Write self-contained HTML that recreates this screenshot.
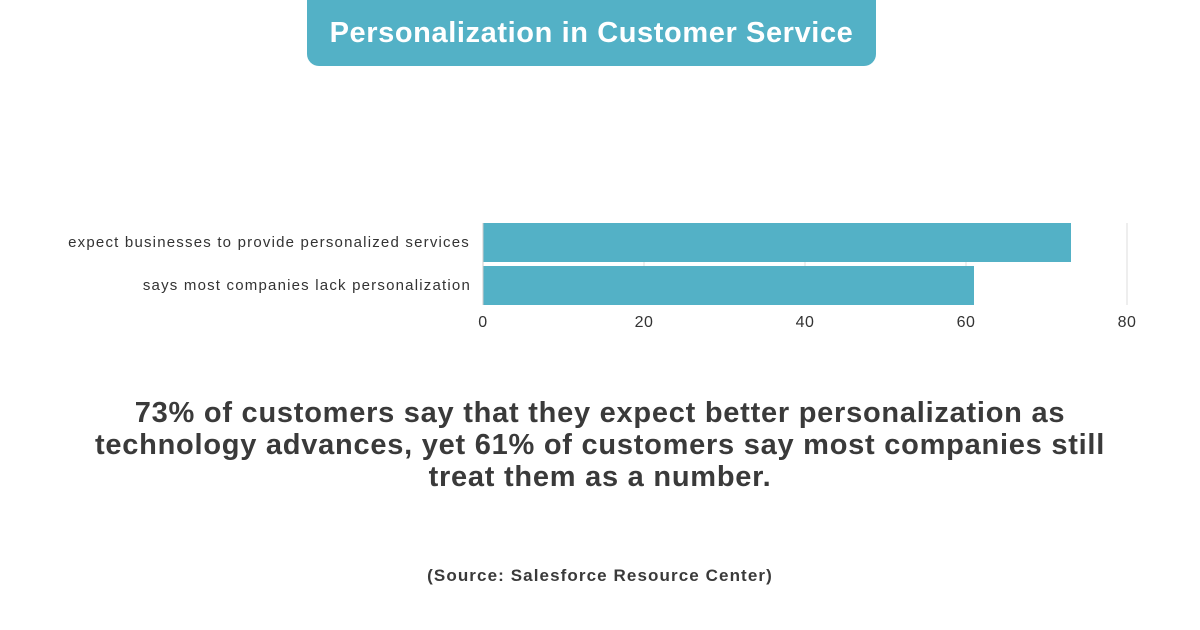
<!DOCTYPE html>
<html><head><meta charset="utf-8"><style>
body{margin:0;width:1200px;height:630px;background:#fff;position:relative;overflow:hidden;font-family:"Liberation Sans",sans-serif}
.t{position:absolute;left:307px;top:0;width:569px;height:66px;background:#53b1c6;border-radius:0 0 12px 12px;color:#fff;font-weight:bold;font-size:29px;letter-spacing:0.6px;text-align:center;line-height:66px}
.m{position:absolute;left:0;width:1200px;top:397px;text-align:center;font-weight:bold;font-size:29px;letter-spacing:0.75px;line-height:32px;color:#3a3a3a}
.s{position:absolute;left:0;width:1200px;top:566px;text-align:center;font-weight:bold;font-size:17px;letter-spacing:1.1px;color:#3a3a3a}
</style></head><body>
<div class="t">Personalization in Customer Service</div>
<svg width="1200" height="630" style="position:absolute;left:0;top:0">
<g stroke="#ddd" stroke-width="1">
<line x1="644" y1="223" x2="644" y2="305"/><line x1="805" y1="223" x2="805" y2="305"/>
<line x1="966" y1="223" x2="966" y2="305"/><line x1="1127" y1="223" x2="1127" y2="305"/>
</g>
<rect x="483" y="223" width="588" height="39" fill="#53b1c6"/>
<rect x="483" y="266" width="491" height="39" fill="#53b1c6"/>
<line x1="483" y1="223" x2="483" y2="305" stroke="#ccc"/>
<g font-family="Liberation Sans,sans-serif" font-size="15" fill="#333" text-anchor="end" letter-spacing="1.2">
<text x="470" y="247">expect businesses to provide personalized services</text>
<text x="471" y="290">says most companies lack personalization</text>
</g>
<g font-family="Liberation Sans,sans-serif" font-size="16" fill="#333" text-anchor="middle" letter-spacing="0.5">
<text x="483" y="327">0</text><text x="644" y="327">20</text><text x="805" y="327">40</text><text x="966" y="327">60</text><text x="1127" y="327">80</text>
</g>
</svg>
<div class="m">73% of customers say that they expect better personalization as<br>technology advances, yet 61% of customers say most companies still<br>treat them as a number.</div>
<div class="s">(Source: Salesforce Resource Center)</div>
</body></html>
